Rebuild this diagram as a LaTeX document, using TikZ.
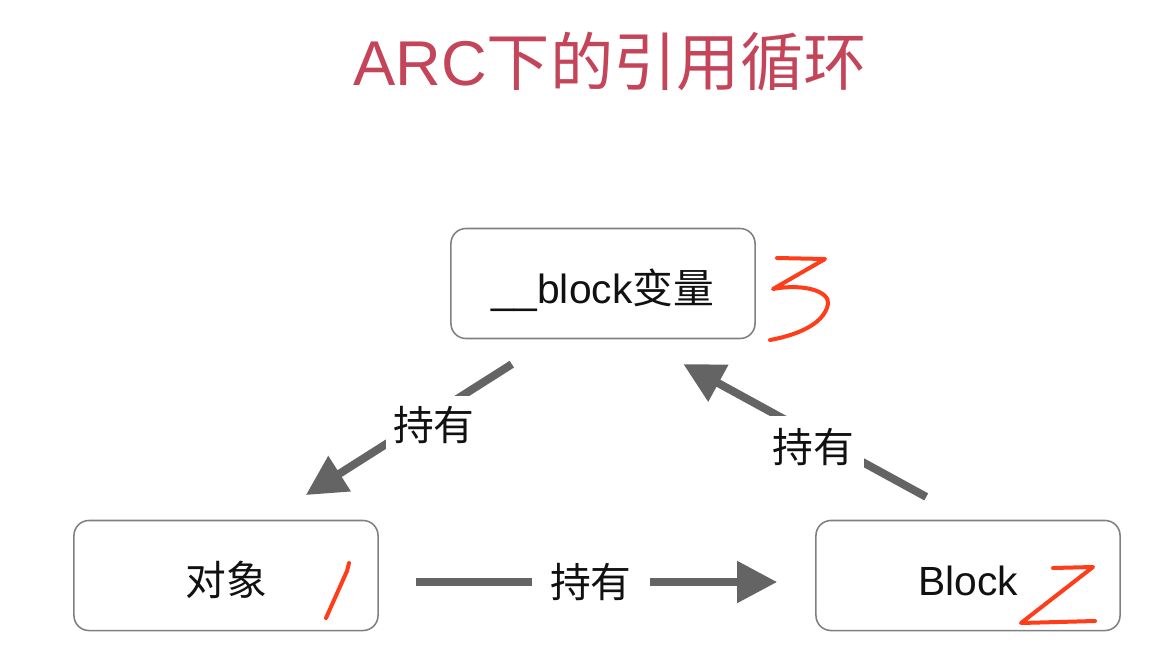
\documentclass[tikz,border=0pt]{standalone}
\usepackage{fontspec}
\setmainfont{Liberation Sans}
\newfontfamily\cjk{Noto Sans CJK SC}
\usetikzlibrary{arrows.meta,calc}
\definecolor{ink}{HTML}{111111}
\definecolor{frame}{HTML}{808080}
\definecolor{slate}{HTML}{646464}
\definecolor{rose}{HTML}{C4455A}
\definecolor{marker}{HTML}{FF3D1A}

\begin{document}
\begin{tikzpicture}[x=0.025cm,y=-0.025cm,
    every node/.style={font=\fontsize{29}{34}\selectfont,text=ink},
    card/.style={rectangle,rounded corners=.375cm,draw=frame,line width=1.1pt,
        fill=white,minimum width=7.6cm,minimum height=2.75cm,
        text height=33pt,text depth=4pt},
    hold/.style={draw=slate,line width=.2cm,-{Triangle[length=1cm,width=1cm]}},
    holdlbl/.style={fill=white,inner xsep=.18cm,inner ysep=.25cm},
    scribble/.style={draw=marker,line width=.1cm,line cap=round,line join=round}]
  \path[use as bounding box,fill=white] (0,0) rectangle (1176,658);

  \node[font=\fontsize{45}{50}\selectfont,text=rose] (title) at (610,62)
    {ARC{\cjk 下的引用循环}};
  \node[card] (var) at (603,283.5) {\_\_block{\cjk 变量}};
  \node[card] (obj) at (226,575.5) {\cjk 对象};
  \node[card] (blk) at (968,575.5) {Block};

  \draw[hold,shorten <=1.16cm,shorten >=1.15cm] ($(var.south)+(-52,0)$)
    -- node[holdlbl,pos=.43,xshift=.125cm,yshift=-.2cm]{\cjk 持有} ($(obj.north)+(41,0)$);
  \draw[hold,shorten <=.925cm,shorten >=.95cm] ($(obj.east)+(0,6.5)$)
    -- node[holdlbl,pos=.486,inner xsep=.45cm]{\cjk 持有} ($(blk.west)+(0,6.5)$);
  \draw[hold,shorten <=1.19cm,shorten >=1.29cm] (blk.north)
    -- node[holdlbl,pos=.45,xshift=-.15cm,yshift=-.22cm,inner xsep=.25cm,inner ysep=.32cm]{\cjk 持有} ($(var.south)+(35,0)$);

  % hand-written marks
  \draw[scribble] (777,258) -- (825,259) -- (773,289)
    .. controls (805,283) and (830,292) .. (828,304)
    .. controls (824,326) and (792,336) .. (770,340);
  \draw[scribble] (349,563) -- (347,571) -- (326,618);
  \draw[scribble] (1053,568) -- (1093,567) -- (1021,623) -- (1095,621);
\end{tikzpicture}
\end{document}
